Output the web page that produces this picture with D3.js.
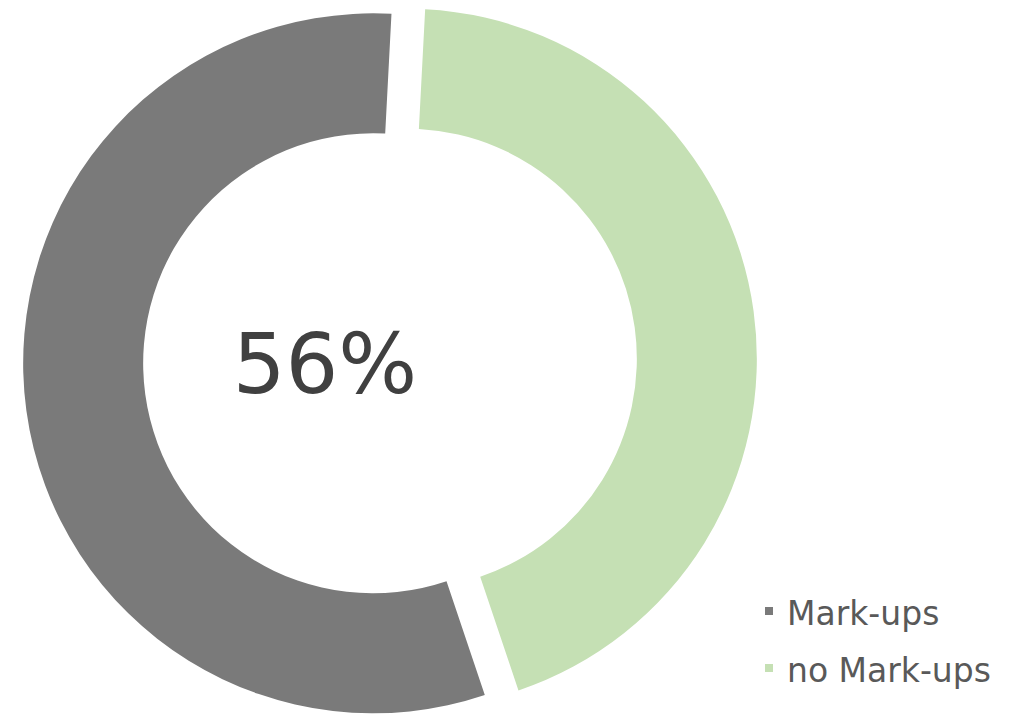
<!DOCTYPE html>
<html>
<head>
<meta charset="utf-8">
<script src="https://cdn.jsdelivr.net/npm/d3@7"></script>
<style>
  html, body { margin: 0; padding: 0; background: #ffffff; }
  svg { display: block; }
</style>
</head>
<body>
<svg id="chart" width="1018" height="716"></svg>
<script>
// ---- data ----
const categories = ["Mark-ups", "no Mark-ups"];
const values = [56, 44];
const colors = ["#7a7a7a", "#c5e0b4"];
const centerLabel = "56%";

// ---- layout ----
const W = 1018, H = 716;
const cx = 390, cy = 361;
const outerR = 350, innerR = 230;
const explode = 17;
const firstSliceAngle = 3 * Math.PI / 180;

const svg = d3.select("#chart");

const data = categories.map((c, i) => ({ name: c, value: values[i], color: colors[i] }));
// draw clockwise: "no Mark-ups" first, then "Mark-ups"
const order = data.slice().reverse();

const pie = d3.pie()
  .sort(null)
  .value(d => d.value)
  .startAngle(firstSliceAngle)
  .endAngle(firstSliceAngle + 2 * Math.PI);

const arc = d3.arc().innerRadius(innerR).outerRadius(outerR);

const g = svg.append("g").attr("transform", `translate(${cx},${cy})`);

g.selectAll("path.slice")
  .data(pie(order))
  .join("path")
  .attr("class", "slice")
  .attr("d", arc)
  .attr("fill", d => d.data.color)
  .attr("transform", d => {
    const mid = (d.startAngle + d.endAngle) / 2;
    return `translate(${explode * Math.sin(mid)},${-explode * Math.cos(mid)})`;
  });

// center label
svg.append("text")
  .attr("x", 325)
  .attr("y", 393)
  .attr("text-anchor", "middle")
  .attr("font-family", "DejaVu Sans, Verdana, sans-serif")
  .attr("font-size", 83)
  .attr("fill", "#404040")
  .text(centerLabel);

// legend
const legend = svg.append("g").attr("transform", "translate(765,607)");
const rows = legend.selectAll("g.row")
  .data(data)
  .join("g")
  .attr("class", "row")
  .attr("transform", (d, i) => `translate(0,${i * 57})`);

rows.append("rect")
  .attr("x", 0).attr("y", 0)
  .attr("width", 8).attr("height", 8)
  .attr("fill", d => d.color);

rows.append("text")
  .attr("x", 22)
  .attr("y", 18)
  .attr("font-family", "DejaVu Sans, Verdana, sans-serif")
  .attr("font-size", 33)
  .attr("fill", "#595959")
  .text(d => d.name);
</script>
</body>
</html>
